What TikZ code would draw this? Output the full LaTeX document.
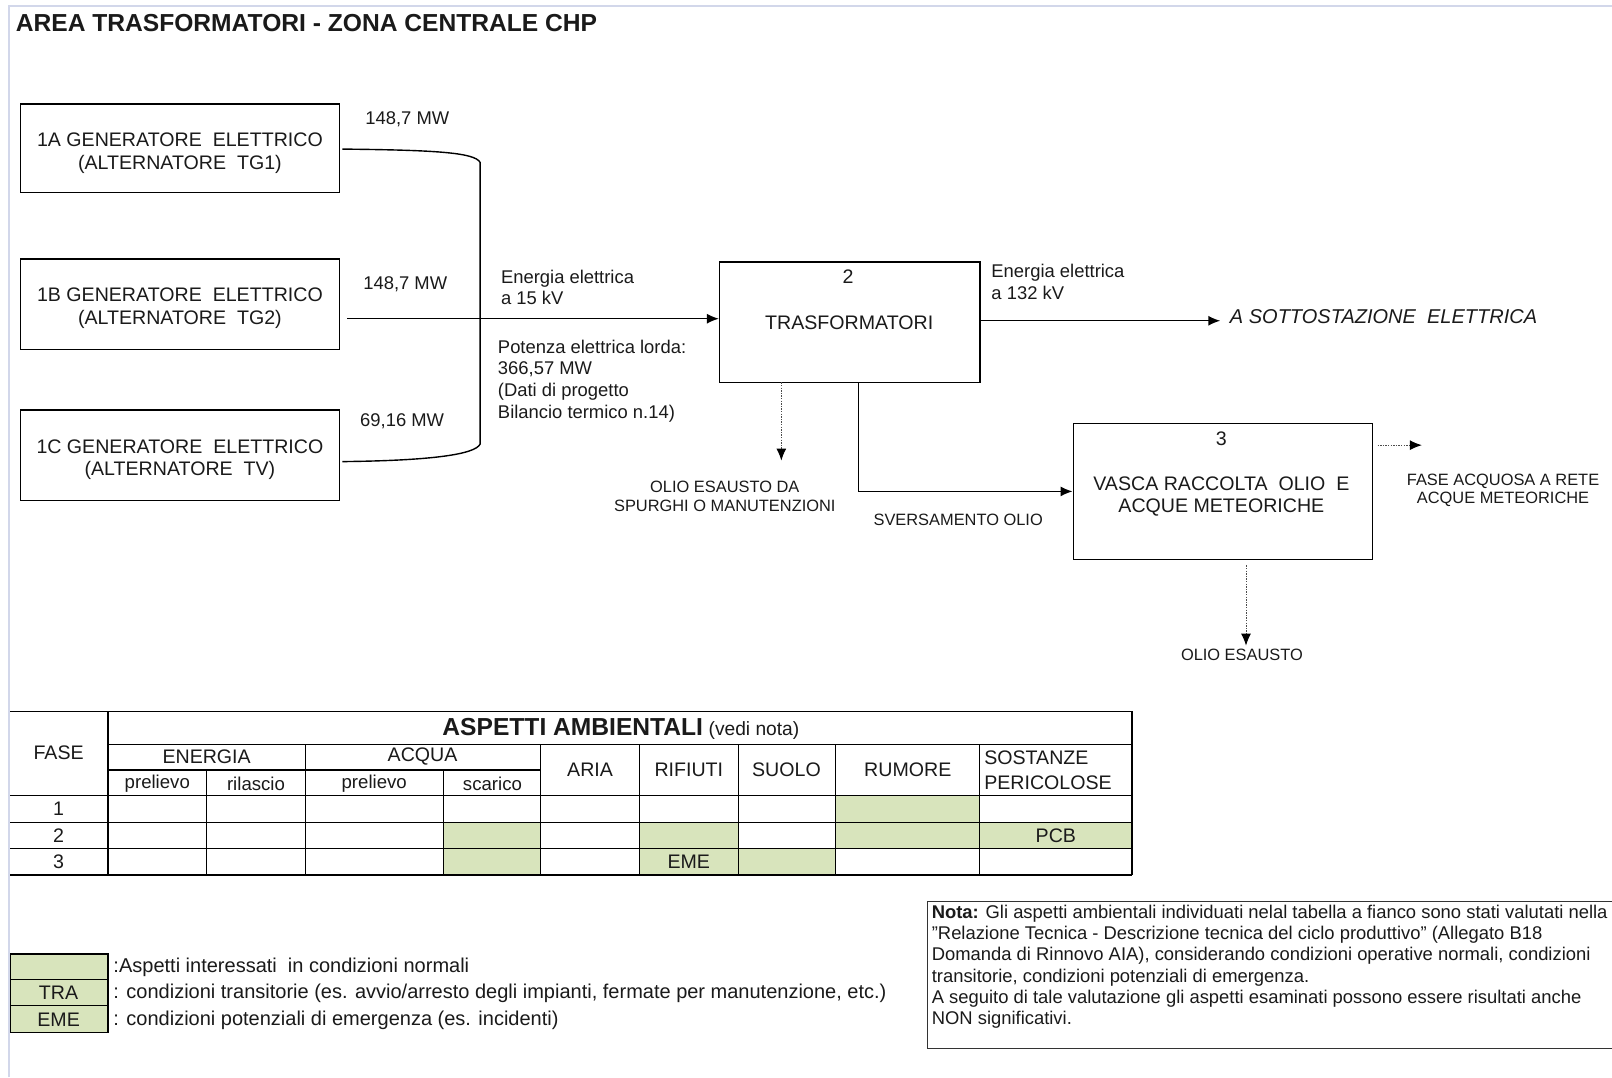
\documentclass[tikz,border=0pt]{standalone}
\usepackage{fontspec}
\setmainfont{Liberation Sans}
\usetikzlibrary{arrows.meta,fit}
\definecolor{framec}{HTML}{D2D7EA}
\definecolor{okgreen}{HTML}{D8E4BC}
\definecolor{txt}{HTML}{1A1A1A}
\begin{document}
\begin{tikzpicture}[x=0.514pt,y=-0.514pt,
  every node/.style={inner sep=0pt, text=txt},
  box/.style={draw=black, line width=0.75pt, inner sep=0pt},
  btxt/.style={align=center, font=\fontsize{9.8}{11.3}\selectfont},
  lbl/.style={align=left, anchor=west, font=\fontsize{9.2}{10.8}\selectfont},
  small/.style={align=center, font=\fontsize{8.2}{9.3}\selectfont},
  tip/.style={-{Latex[length=6pt,width=5pt,color=black]}},
  conn/.style={line width=0.7pt, tip},
  dconn/.style={line width=0.5pt, draw=black!70, dash pattern=on 0.7pt off 0.6pt, tip},
  grid/.style={line width=0.6pt, draw=black},
  tcell/.style={font=\fontsize{9.8}{11.3}\selectfont},
  tsub/.style={font=\fontsize{9.3}{11}\selectfont},
  leg/.style={anchor=west, font=\fontsize{10}{11.6}\selectfont},
  legbox/.style={fill=okgreen, draw=black, line width=0.6pt}
]
\useasboundingbox (0,0) rectangle (1568,1048);
\fill[white] (0,0) rectangle (1568,1048);
\draw[framec, line width=1.2pt] (9,1048) -- (9,6) -- (1568,6);

% title
\node[anchor=west, font=\bfseries\fontsize{12.3}{14}\selectfont] (title) at (15,22) {AREA TRASFORMATORI - ZONA CENTRALE CHP};

% generator boxes
\node[box, fit={(20,101) (330,187)}] (g1) {};
\node[btxt] (g1t) at (175,149) {1A GENERATORE\ \ ELETTRICO\\(ALTERNATORE\ \ TG1)};
\node[box, fit={(20,252) (330,340)}] (g2) {};
\node[btxt] (g2t) at (175,300) {1B GENERATORE\ \ ELETTRICO\\(ALTERNATORE\ \ TG2)};
\node[box, fit={(20,399) (330,487)}] (g3) {};
\node[btxt] (g3t) at (175,447) {1C GENERATORE\ \ ELETTRICO\\(ALTERNATORE\ \ TV)};

\node[lbl] (mw1) at (355,116) {148,7 MW};
\node[lbl] (mw2) at (353,276) {148,7 MW};
\node[lbl] (mw3) at (350,410) {69,16 MW};

% transformer box
\node[box, fit={(700,255) (953,372)}] (tr) {};
\node[btxt] (trn) at (825,269) {2};
\node[btxt] (trt) at (826,314) {TRASFORMATORI};

% vasca box
\node[box, fit={(1044,412) (1335,544)}] (va) {};
\node[btxt] (van) at (1188,427) {3};
\node[btxt] (vat) at (1188,483) {VASCA RACCOLTA\ \ OLIO\ \ E\\ACQUE METEORICHE};

% labels
\node[lbl] (e15) at (487,279.5) {Energia elettrica\\a 15 kV};
\node[lbl] (pot) at (484,370.5) {Potenza elettrica lorda:\\366,57 MW\\(Dati di progetto\\Bilancio termico n.14)};
\node[lbl] (e132) at (964,274.5) {Energia elettrica\\a 132 kV};
\node[anchor=west, font=\itshape\fontsize{10}{12}\selectfont] (sott) at (1196,308) {A SOTTOSTAZIONE\ \ ELETTRICA};
\node[small] (olio1) at (705,483) {OLIO ESAUSTO DA\\SPURGHI O MANUTENZIONI};
\node[small] (sver) at (932,506) {SVERSAMENTO OLIO};
\node[small] (fase) at (1462,477) {FASE ACQUOSA A RETE\\ACQUE METEORICHE};
\node[small] (olio2) at (1208,637) {OLIO ESAUSTO};

% connectors
\coordinate (a1) at (333,145);
\coordinate (a3) at (333,449);
\draw[line width=0.7pt] (a1) .. controls (420,146) and (462,148) .. (467,158)
   -- (467,432) .. controls (462,442) and (420,448) .. (a3);
\coordinate (b2) at (338,310);
\draw[conn] (b2) -- (b2 -| tr.west);
\coordinate (t2o) at (953,312);
\coordinate (sottend) at (1187,312);
\draw[conn] (t2o) -- (sottend);
\coordinate (d1s) at (760,372);
\coordinate (d1e) at (760,448);
\draw[dconn] (d1s) -- (d1e);
\coordinate (sv) at (835,372);
\draw[conn] (sv) -- (835,478) -- (835,478 -| va.west);
\coordinate (fs) at (1340,433);
\coordinate (fe) at (1383,433);
\draw[dconn] (fs) -- (fe);
\coordinate (os) at (1212,550);
\coordinate (oe) at (1212,628);
\draw[dconn] (os) -- (oe);

% table fills
\fill[okgreen] (813,774) rectangle (953,800);
\fill[okgreen] (431,800) rectangle (526,825);
\fill[okgreen] (622,800) rectangle (718,825);
\fill[okgreen] (813,800) rectangle (953,825);
\fill[okgreen] (953,800) rectangle (1101,825);
\fill[okgreen] (431,825) rectangle (526,851);
\fill[okgreen] (622,825) rectangle (718,851);
\fill[okgreen] (718,825) rectangle (813,851);

% table grid
\draw[grid] (10,692) -- (1101,692);
\draw[grid] (105,724) -- (1101,724);
\draw[grid] (105,749) -- (526,749);
\foreach \yy in {774,800,825,851} \draw[grid] (10,\yy) -- (1101,\yy);
\draw[grid] (105,692) -- (105,851);
\draw[grid] (1101,692) -- (1101,851);
\foreach \xx in {201,431} \draw[grid] (\xx,749) -- (\xx,851);
\foreach \xx in {297,526,622,718,813,953} \draw[grid] (\xx,724) -- (\xx,851);

% table text
\node[anchor=west] (asp) at (430,709) {{\bfseries\fontsize{12.3}{14}\selectfont ASPETTI AMBIENTALI} {\fontsize{9.6}{11}\selectfont (vedi nota)}};
\node[tcell] (hfase) at (57,732) {FASE};
\node[tcell] (hen) at (201,736) {ENERGIA};
\node[tcell] (hac) at (411,736) {ACQUA};
\node[tsub] (hp1) at (153,762) {prelievo};
\node[tsub] (hr1) at (249,762) {rilascio};
\node[tsub] (hp2) at (364,762) {prelievo};
\node[tsub] (hs2) at (479,762) {scarico};
\node[tcell] (har) at (574,749) {ARIA};
\node[tcell] (hri) at (670,749) {RIFIUTI};
\node[tcell] (hsu) at (765,749) {SUOLO};
\node[tcell] (hru) at (883,749) {RUMORE};
\node[tcell, anchor=west, align=left, font=\fontsize{9.8}{12.7}\selectfont] (hso) at (957,749) {SOSTANZE\\PERICOLOSE};
\node[tcell] (f1) at (57,787) {1};
\node[tcell] (f2) at (57,813) {2};
\node[tcell] (f3) at (57,838) {3};
\node[tcell] (pcb) at (1027,813) {PCB};
\node[tcell] (eme) at (670,838) {EME};

% legend
\draw[legbox] (10,928) rectangle (105,953);
\draw[legbox] (10,953) rectangle (105,978);
\draw[legbox] (10,978) rectangle (105,1004);
\node[tcell] (ltra) at (57,966) {TRA};
\node[tcell] (leme) at (57,992) {EME};
\node[leg] (l1) at (110,941) {:Aspetti interessati\ \ in condizioni normali};
\node[leg] (l2) at (110,966) {: condizioni transitorie (es. avvio/arresto degli impianti, fermate per manutenzione, etc.)};
\node[leg] (l3) at (110,992) {: condizioni potenziali di emergenza (es. incidenti)};

% nota
\draw[line width=0.75pt, draw=black!80] (1590,877) -- (902,877) -- (902,1020) -- (1590,1020);
\node[anchor=north west, align=left, font=\fontsize{9.2}{10.6}\selectfont] (nota) at (906,880)
 {\textbf{Nota:} Gli aspetti ambientali individuati nelal tabella a fianco sono stati valutati nella\\
 "Relazione Tecnica - Descrizione tecnica del ciclo produttivo" (Allegato B18\\
 Domanda di Rinnovo AIA), considerando condizioni operative normali, condizioni\\
 transitorie, condizioni potenziali di emergenza.\\
 A seguito di tale valutazione gli aspetti esaminati possono essere risultati anche\\
 NON significativi.};
\end{tikzpicture}
\end{document}
